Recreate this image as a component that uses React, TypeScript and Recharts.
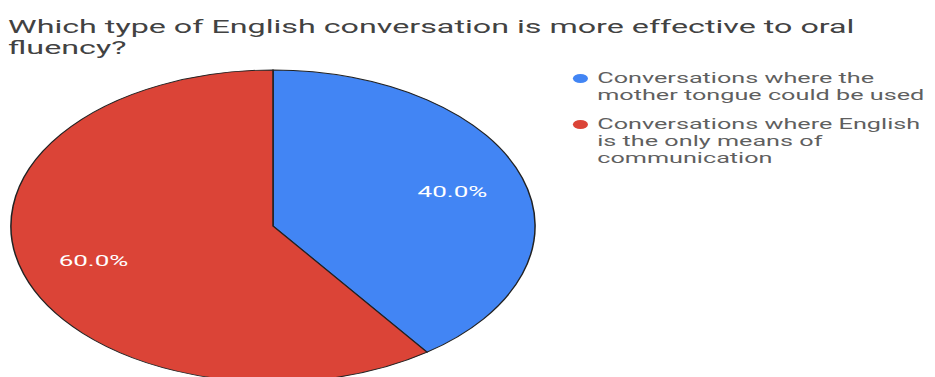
import React from 'react';
import { PieChart, Pie, Cell, Legend } from 'recharts';

const categories = [
  'Conversations where the mother tongue could be used',
  'Conversations where English is the only means of communication',
];
const values = [40, 60];
const colors = ['#4285F4', '#DB4437'];

const data = categories.map((name, i) => ({ name, value: values[i] }));

// the reference is stretched sideways, so the whole chart is drawn narrow and scaled
const SX = 1.68;
const W = 935 / SX;
const H = 377;
const RADIAN = Math.PI / 180;

const renderLabel = (props: any) => {
  const { cx, cy, midAngle, outerRadius, percent } = props;
  const r = outerRadius * 0.72;
  const x = cx + r * Math.cos(-midAngle * RADIAN);
  const y = cy + r * Math.sin(-midAngle * RADIAN);
  return (
    <text
      x={x}
      y={y}
      fill="#ffffff"
      textAnchor="middle"
      dominantBaseline="central"
      fontSize={15.5}
      fontFamily="Roboto"
    >
      {(percent * 100).toFixed(1)}%
    </text>
  );
};

const renderLegend = (props: any) => {
  const payload = [...(props.payload || [])].sort(
    (a: any, b: any) => categories.indexOf(a.value) - categories.indexOf(b.value)
  );
  return (
    <div style={{ fontFamily: 'Roboto', fontSize: 15, lineHeight: '17px', color: '#5f5f5f' }}>
      {payload.map((entry: any, i: number) => (
        <div key={i} style={{ display: 'flex', alignItems: 'flex-start', marginBottom: 12 }}>
          <span
            style={{
              width: 9,
              height: 9,
              borderRadius: '50%',
              background: entry.color,
              marginTop: 4,
              marginRight: 5.5,
              flexShrink: 0,
            }}
          />
          <span>{entry.value}</span>
        </div>
      ))}
    </div>
  );
};

export default function App() {
  return (
    <div
      style={{
        position: 'absolute',
        left: 0,
        top: 0,
        width: W,
        height: H,
        transform: `scaleX(${SX})`,
        transformOrigin: '0 0',
        background: '#ffffff',
      }}
    >
      <div
        style={{
          position: 'absolute',
          left: 4.8,
          top: 16,
          fontFamily: 'Roboto',
          fontSize: 19.2,
          lineHeight: '21px',
          color: '#424242',
          whiteSpace: 'nowrap',
          zIndex: 1,
        }}
      >
        Which type of English conversation is more effective to oral
        <br />
        fluency?
      </div>
      <PieChart width={W} height={H} margin={{ top: 0, right: 0, bottom: 0, left: 0 }}>
        <Pie
          data={data}
          dataKey="value"
          nameKey="name"
          cx={162.5}
          cy={226}
          outerRadius={156}
          startAngle={90}
          endAngle={-270}
          stroke="#222222"
          strokeWidth={0.9}
          label={renderLabel}
          labelLine={false}
          isAnimationActive={false}
        >
          {data.map((d, i) => (
            <Cell key={d.name} fill={colors[i]} />
          ))}
        </Pie>
        <Legend
          layout="vertical"
          verticalAlign="top"
          align="right"
          itemSorter={null as any}
          content={renderLegend}
          wrapperStyle={{ position: 'absolute', top: 70, left: 341, right: 'auto', width: 215 }}
        />
      </PieChart>
    </div>
  );
}
